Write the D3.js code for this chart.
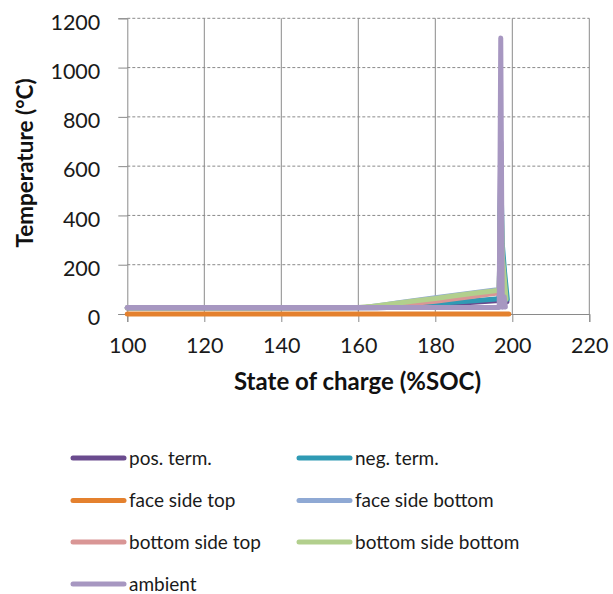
<!DOCTYPE html>
<html>
<head>
<meta charset="utf-8">
<script src="https://cdn.jsdelivr.net/npm/d3@7"></script>
<style>
  html, body { margin: 0; padding: 0; background: #fff; }
  svg { display: block; font-family: Lato, "Open Sans", sans-serif; }
</style>
</head>
<body>
<svg id="chart" width="613" height="594"></svg>
<script>
// Temperatures (°C) recorded against state of charge (%SOC) during overcharge
const socTicks = [100, 120, 140, 160, 180, 200, 220];
const tempTicks = [0, 200, 400, 600, 800, 1000, 1200];

const seriesNames = ["pos. term.", "neg. term.", "face side top", "face side bottom",
                     "bottom side top", "bottom side bottom", "ambient"];
const seriesColors = ["#6a4b8e", "#2f9ab4", "#e4812e", "#8fa9d4", "#d99695", "#b2cf8d", "#a797c1"];

const posTermSoc  = [100, 140, 165, 170, 180, 190, 196.6, 197.0, 197.3, 198.0, 198.6];
const posTermTemp = [24, 24, 25, 27, 38, 48, 55, 700, 200, 120, 50];

const negTermSoc  = [100, 140, 168, 172, 180, 190, 196.6, 197.0, 197.4, 198.0, 198.7];
const negTermTemp = [25, 25, 26, 30, 43, 54, 62, 600, 285, 170, 60];

const faceTopSoc  = [100, 150, 199.1];
const faceTopTemp = [0, 0, 0];

const faceBotSoc  = [100, 140, 162, 167, 170, 180, 190, 196.6, 197.0, 197.3, 198.2];
const faceBotTemp = [25, 25, 27, 38, 45, 66, 86, 100, 500, 200, 70];

const botTopSoc   = [100, 140, 163, 170, 180, 190, 196.6, 197.0, 197.3, 198.2];
const botTopTemp  = [25, 25, 27, 36, 52, 72, 86, 450, 180, 65];

const botBotSoc   = [100, 140, 160, 163, 167, 170, 175, 180, 185, 190, 195, 196.6, 197.0, 197.4, 198.4];
const botBotTemp  = [25, 25, 26, 30, 38, 44, 54, 63, 74, 84, 93, 97, 550, 240, 60];

const ambientSoc  = [100, 150, 196.6, 197.0, 197.4, 197.9, 198.2];
const ambientTemp = [26, 26, 26, 1120, 27, 70, 28];

const socData = [posTermSoc, negTermSoc, faceTopSoc, faceBotSoc, botTopSoc, botBotSoc, ambientSoc];
const tempData = [posTermTemp, negTermTemp, faceTopTemp, faceBotTemp, botTopTemp, botBotTemp, ambientTemp];

const svg = d3.select("#chart");
const x = d3.scaleLinear().domain([100, 220]).range([127.3, 589.3]);
const y = d3.scaleLinear().domain([0, 1200]).range([314, 18.3]);
const gridColor = "#8a8a8a";

// horizontal dashed gridlines
svg.append("g").selectAll("line").data(tempTicks.filter(t => t > 0)).join("line")
  .attr("x1", x(100)).attr("x2", x(220))
  .attr("y1", d => y(d)).attr("y2", d => y(d))
  .attr("stroke", gridColor).attr("stroke-width", 1).attr("stroke-dasharray", "3,2");

// vertical solid gridlines
svg.append("g").selectAll("line").data(socTicks.filter(t => t > 100)).join("line")
  .attr("x1", d => x(d)).attr("x2", d => x(d))
  .attr("y1", y(1200)).attr("y2", y(0))
  .attr("stroke", gridColor).attr("stroke-width", 1);

// axes
const xAxis = d3.axisBottom(x).tickValues(socTicks).tickSize(8).tickPadding(16).tickFormat(d3.format("d"));
const yAxis = d3.axisLeft(y).tickValues(tempTicks).tickSize(9).tickPadding(18).tickFormat(d3.format("d"));

const gx = svg.append("g").attr("transform", `translate(0,${y(0)})`).call(xAxis);
const gy = svg.append("g").attr("transform", `translate(${x(100)},0)`).call(yAxis);
[gx, gy].forEach(g => {
  g.select(".domain").attr("stroke", gridColor);
  g.selectAll(".tick line").attr("stroke", gridColor);
  g.selectAll(".tick text").attr("fill", "#1a1a1a")
    .style("font-family", "Lato, sans-serif").style("font-size", "21.5px");
});
gy.selectAll(".tick text").attr("dy", "0.5em");
gx.selectAll(".tick text").attr("dy", "0.71em");

// series lines
const line = d3.line().x(d => x(d[0])).y(d => y(d[1]));
const plot = svg.append("g");
seriesNames.forEach((name, i) => {
  const pts = socData[i].map((s, j) => [s, tempData[i][j]]);
  plot.append("path").datum(pts)
    .attr("d", line)
    .attr("fill", "none")
    .attr("stroke", seriesColors[i])
    .attr("stroke-width", 5)
    .attr("stroke-linejoin", "round")
    .attr("stroke-linecap", "round");
});

// axis titles
svg.append("text")
  .attr("x", 357.5).attr("y", 390)
  .attr("text-anchor", "middle")
  .style("font-weight", "bold").style("font-size", "24px").attr("fill", "#111")
  .text("State of charge (%SOC)");

svg.append("text")
  .attr("transform", "translate(33,163) rotate(-90)")
  .attr("text-anchor", "middle")
  .style("font-weight", "bold").style("font-size", "22.5px").attr("fill", "#111")
  .text("Temperature (°C)");

// legend
const rowsY = [458, 500.5, 542, 584];
const legend = svg.append("g");
seriesNames.forEach((name, i) => {
  const col = i % 2, row = Math.floor(i / 2);
  const lx = col === 0 ? 73 : 299;
  const g = legend.append("g").attr("transform", `translate(${lx},${rowsY[row]})`);
  g.append("line").attr("x1", 0).attr("x2", 51).attr("y1", 0).attr("y2", 0)
    .attr("stroke", seriesColors[i]).attr("stroke-width", 5).attr("stroke-linecap", "round");
  g.append("text").attr("x", 56).attr("y", 0).attr("dy", "0.35em")
    .style("font-size", "19px").attr("fill", "#1a1a1a").text(name);
});
</script>
</body>
</html>
